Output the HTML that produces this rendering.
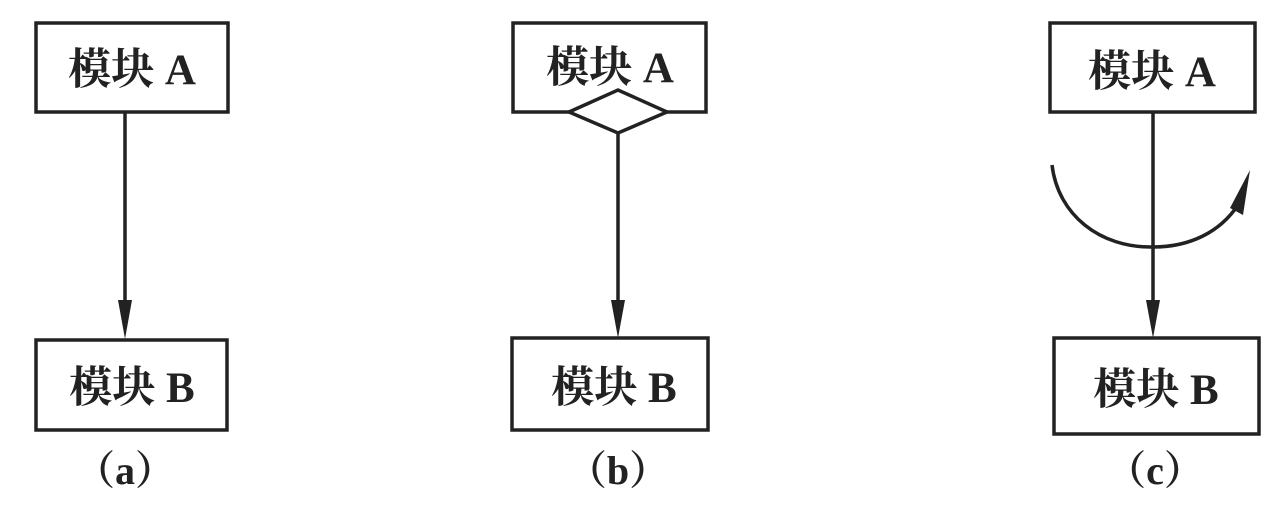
<!DOCTYPE html>
<html><head><meta charset="utf-8"><style>
html,body{margin:0;padding:0;background:#fff;}
svg{display:block}
text{font-family:"Liberation Serif","Noto Serif CJK SC",serif;font-size:43px;fill:#222;font-weight:bold;}
</style></head><body>
<svg width="1281" height="505" viewBox="0 0 1281 505">
<g stroke="#222" stroke-width="3.5" fill="none">
<rect x="36" y="23" width="192" height="89"/>
<rect x="36" y="340" width="191" height="90"/>
<rect x="513" y="23" width="193" height="89"/>
<rect x="512" y="338" width="196" height="92"/>
<rect x="1050" y="23" width="205" height="89"/>
<rect x="1054" y="338" width="205" height="96"/>
<line x1="125" y1="112" x2="125" y2="305"/>
<line x1="618" y1="133" x2="618" y2="305"/>
<line x1="1153" y1="112" x2="1153" y2="305"/>
<path d="M1052 165 C1058 215 1100 248 1153 247 C1190 247 1220 232 1238 205"/>
</g>
<polygon points="569,112 618,90 667,112 618,133" fill="#fff" stroke="#222" stroke-width="3.5"/>
<g fill="#222">
<polygon points="118,300 132,300 125,339"/>
<polygon points="611,300 625,300 618,338"/>
<polygon points="1146,300 1160,300 1153,338"/>
<polygon points="1250,170 1230,208 1243,215"/>
</g>
<text x="132" y="84" text-anchor="middle">模块 A</text>
<text x="132" y="402" text-anchor="middle">模块 B</text>
<text x="610" y="82" text-anchor="middle">模块 A</text>
<text x="614" y="402" text-anchor="middle">模块 B</text>
<text x="1152" y="86" text-anchor="middle">模块 A</text>
<text x="1156" y="404" text-anchor="middle">模块 B</text>
<text x="125" y="484" text-anchor="middle" style="font-size:40px">（a）</text>
<text x="618" y="484" text-anchor="middle" style="font-size:40px">（b）</text>
<text x="1155" y="484" text-anchor="middle" style="font-size:40px">（c）</text>
</svg>
</body></html>
